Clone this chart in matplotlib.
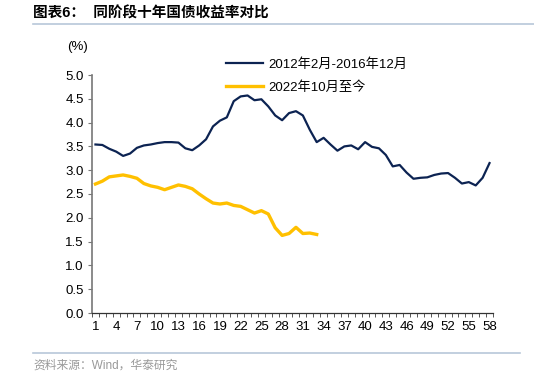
import matplotlib
matplotlib.use('Agg')
import matplotlib.pyplot as plt
from matplotlib.lines import Line2D

plt.rcParams['font.family'] = ['Liberation Sans', 'Noto Sans CJK SC', 'DejaVu Sans']

# 2012年2月-2016年12月 (month index 1..58)
yield_2012 = [3.54, 3.53, 3.45, 3.39, 3.30, 3.35, 3.47, 3.52, 3.54, 3.57,
              3.59, 3.59, 3.58, 3.46, 3.42, 3.52, 3.65, 3.92, 4.04, 4.11,
              4.45, 4.55, 4.57, 4.47, 4.49, 4.34, 4.15, 4.05, 4.20, 4.24,
              4.15, 3.85, 3.59, 3.68, 3.54, 3.41, 3.50, 3.52, 3.44, 3.59,
              3.49, 3.46, 3.32, 3.08, 3.11, 2.95, 2.82, 2.84, 2.85, 2.90,
              2.93, 2.94, 2.84, 2.72, 2.75, 2.68, 2.84, 3.15]
# 2022年10月至今
yield_2022 = [2.71, 2.77, 2.86, 2.88, 2.90, 2.87, 2.83, 2.72, 2.67, 2.64,
              2.59, 2.64, 2.69, 2.66, 2.61, 2.50, 2.40, 2.31, 2.29, 2.31,
              2.26, 2.24, 2.17, 2.10, 2.15, 2.08, 1.79, 1.63, 1.67, 1.80,
              1.67, 1.68, 1.65]
x_labels = list(range(1, 59, 3))
y_ticks = [0.0, 0.5, 1.0, 1.5, 2.0, 2.5, 3.0, 3.5, 4.0, 4.5, 5.0]

fig = plt.figure(figsize=(5.34, 3.78), dpi=100)
ax = fig.add_axes([92 / 534, 1 - 313 / 378, 401 / 534, 238 / 378])

x1 = list(range(1, len(yield_2012) + 1))
x2 = list(range(1, len(yield_2022) + 1))
ax.plot(x1, yield_2012, color='#0c2352', lw=1.6, solid_joinstyle='round')
ax.plot(x2, yield_2022, color='#ffc000', lw=2.4, solid_joinstyle='round')

ax.set_xlim(0.5, 58.5)
ax.set_ylim(0, 5.0)
ax.set_yticks(y_ticks)
ax.set_yticklabels([f'{v:.1f}' for v in y_ticks], fontsize=9.5)
ax.set_xticks(x_labels)
ax.set_xticklabels([str(v) for v in x_labels], fontsize=9.5)
ax.set_xticks([v + 0.5 for v in range(0, 59)], minor=True)
ax.tick_params(axis='x', which='major', length=0, pad=6)
ax.tick_params(axis='x', which='minor', length=3, width=0.7, color='#555555')
ax.tick_params(axis='y', length=3, width=0.8, color='#777777', pad=3)

for s in ['top', 'right']:
    ax.spines[s].set_visible(False)
ax.spines['left'].set_color('#777777')
ax.spines['left'].set_linewidth(1.2)
ax.spines['bottom'].set_color('#333333')
ax.spines['bottom'].set_linewidth(0.9)

fig.text(78 / 534, 1 - 47 / 378, '(%)', fontsize=9.5, ha='center', va='center')

handles = [Line2D([], [], color='#0c2352', lw=1.6),
           Line2D([], [], color='#ffc000', lw=2.4)]
ax.legend(handles, ['2012年2月-2016年12月', '2022年10月至今'],
          loc='upper left', bbox_to_anchor=(214 / 534, 1 - 46 / 378),
          bbox_transform=fig.transFigure, frameon=False, fontsize=9.5,
          handlelength=2.8, handletextpad=0.4, labelspacing=0.8)

# title and source
fig.text(33 / 534, 1 - 14 / 378, '图表6：  同阶段十年国债收益率对比', fontsize=10.5,
         fontweight='heavy', ha='left', va='center')
fig.add_artist(Line2D([33 / 534, 1.0], [1 - 24 / 378, 1 - 24 / 378],
                      color='#b8c7d9', lw=1.2))
fig.add_artist(Line2D([33 / 534, 520 / 534], [1 - 353 / 378, 1 - 353 / 378],
                      color='#b8c7d9', lw=1.2))
fig.text(33 / 534, 1 - 366 / 378, '资料来源：Wind，华泰研究', fontsize=8.5,
         color='#999999', ha='left', va='center')

fig.savefig('out.png', dpi=100)
